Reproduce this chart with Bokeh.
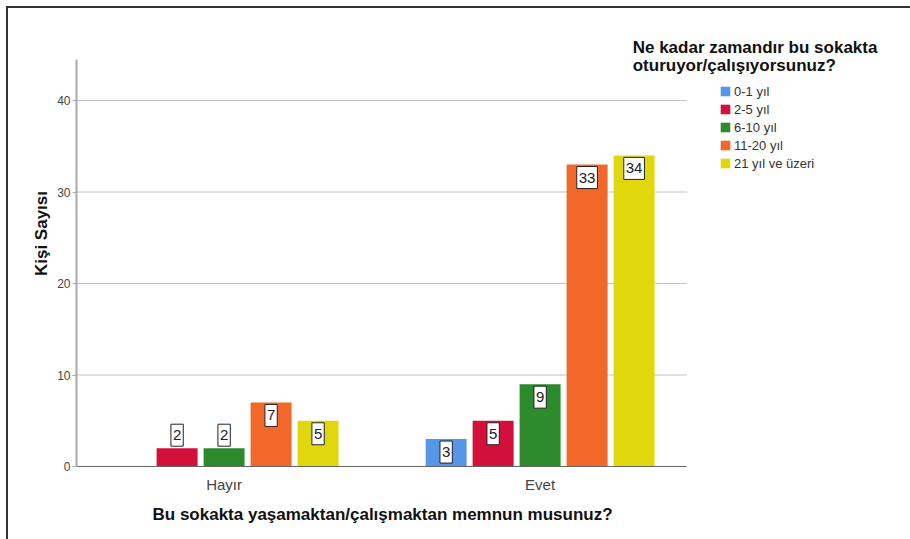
from bokeh.plotting import figure
from bokeh.models import (ColumnDataSource, Range1d, FixedTicker, Label,
                          Legend, LegendItem, Title)
from bokeh.embed import file_html
from bokeh.resources import INLINE

# ---- data ----
categories = ["Hayır", "Evet"]
series = ["0-1 yıl", "2-5 yıl", "6-10 yıl", "11-20 yıl", "21 yıl ve üzeri"]
v_0_1 = [0, 3]
v_2_5 = [2, 5]
v_6_10 = [2, 9]
v_11_20 = [7, 33]
v_21 = [5, 34]
values = [v_0_1, v_2_5, v_6_10, v_11_20, v_21]
colors = ["#5597E6", "#D3103A", "#2D8A2D", "#F2682A", "#E0D80C"]
y_ticks = [0, 10, 20, 30, 40]

legend_title = ["Ne kadar zamandır bu sokakta", "oturuyor/çalışıyorsunuz?"]
x_title = "Bu sokakta yaşamaktan/çalışmaktan memnun musunuz?"
y_title = "Kişi Sayısı"

FONT = "Liberation Sans"
slot = 0.1487
bar_w = 0.1297
x_lo, x_hi_axis, x_hi = -0.467, 1.464, 2.172
y_hi_axis, y_hi = 44.5, 50.93

p = figure(width=910, height=539, output_backend="svg", toolbar_location=None,
           x_range=Range1d(x_lo, x_hi), y_range=Range1d(0, y_hi),
           min_border_left=76, min_border_right=0, min_border_top=0,
           min_border_bottom=73)
p.outline_line_color = None
p.background_fill_color = None
p.border_fill_color = None
p.styles = {"background": "linear-gradient(#333333,#333333) 6px 6px / 2px calc(100% - 6px) no-repeat, "
                          "linear-gradient(#333333,#333333) 6px 6px / calc(100% - 6px) 2px no-repeat, white"}

# grid lines limited to the axis extent
p.segment(x0=[x_lo] * (len(y_ticks) - 1), x1=[x_hi_axis] * (len(y_ticks) - 1),
          y0=y_ticks[1:], y1=y_ticks[1:], line_color="#c4c4c4", line_width=1)

legend_items = []
common = dict(text_font=FONT, text_font_size="15px", text_color="#222222",
              text_align="center", background_fill_color="white",
              border_line_color="#222222", border_line_width=1, padding=(2, 2, 6, 6))
for si, (name, vals, col) in enumerate(zip(series, values, colors)):
    xs = [ci + (si - 2) * slot for ci in range(len(categories))]
    src = ColumnDataSource(dict(x=xs, top=vals))
    r = p.vbar(x="x", top="top", bottom=0, width=bar_w, source=src,
               fill_color=col, line_color=None)
    legend_items.append(LegendItem(label=name, renderers=[r]))
    for x, v in zip(xs, vals):
        if v <= 0:
            continue
        if v < 2.6:
            p.add_layout(Label(x=x, y=v, text=str(v), text_baseline="bottom",
                               y_offset=2, **common))
        else:
            p.add_layout(Label(x=x, y=v, text=str(v), text_baseline="top",
                               y_offset=-2, **common))

# axes
p.yaxis.bounds = (0, y_hi_axis)
p.yaxis.ticker = FixedTicker(ticks=y_ticks)
p.yaxis.minor_tick_line_color = None
p.yaxis.major_tick_out = 4
p.yaxis.major_tick_in = 0
p.yaxis.major_tick_line_color = "#aaaaaa"
p.yaxis.axis_line_color = "#aaaaaa"
p.yaxis.axis_line_width = 2
p.yaxis.major_label_text_font = FONT
p.yaxis.major_label_text_font_size = "12px"
p.yaxis.major_label_text_color = "#444444"
p.yaxis.major_label_standoff = 2
p.yaxis.axis_label = y_title
p.yaxis.axis_label_text_font = FONT
p.yaxis.axis_label_text_font_size = "17px"
p.yaxis.axis_label_text_font_style = "bold"
p.yaxis.axis_label_text_color = "#111111"
p.yaxis.axis_label_standoff = 3

x_ticks = list(range(len(categories)))
p.xaxis.bounds = (x_lo, x_hi_axis)
p.xaxis.ticker = FixedTicker(ticks=x_ticks)
p.xaxis.major_label_overrides = {t: c for t, c in zip(x_ticks, categories)}
p.xaxis.minor_tick_line_color = None
p.xaxis.major_tick_line_color = None
p.xaxis.axis_line_color = "#666666"
p.xaxis.axis_line_width = 1
p.xaxis.major_label_text_font = FONT
p.xaxis.major_label_text_font_size = "15px"
p.xaxis.major_label_text_color = "#444444"
p.xaxis.major_label_standoff = 3

p.add_layout(Title(text=x_title, align="left", offset=76, standoff=14,
                   text_font=FONT, text_font_size="17px", text_font_style="bold",
                   text_color="#111111"), "below")

p.xgrid.grid_line_color = None
p.ygrid.grid_line_color = None

legend = Legend(items=legend_items, location=(643, 294), orientation="vertical",
                border_line_color=None, background_fill_alpha=0, padding=0, margin=0,
                spacing=0, label_height=18, glyph_height=12, glyph_width=12,
                label_standoff=3, label_text_font=FONT, label_text_font_size="13px",
                label_text_color="#333333")
p.add_layout(legend, "center")

for i, line in enumerate(legend_title):
    p.add_layout(Label(x=1.293, y=45.8 - i * 2.0, text=line, text_font=FONT,
                       text_font_size="17px", text_font_style="bold",
                       text_color="#111111", text_baseline="middle", text_align="left"))

open("out.html", "w").write(file_html(p, INLINE))
